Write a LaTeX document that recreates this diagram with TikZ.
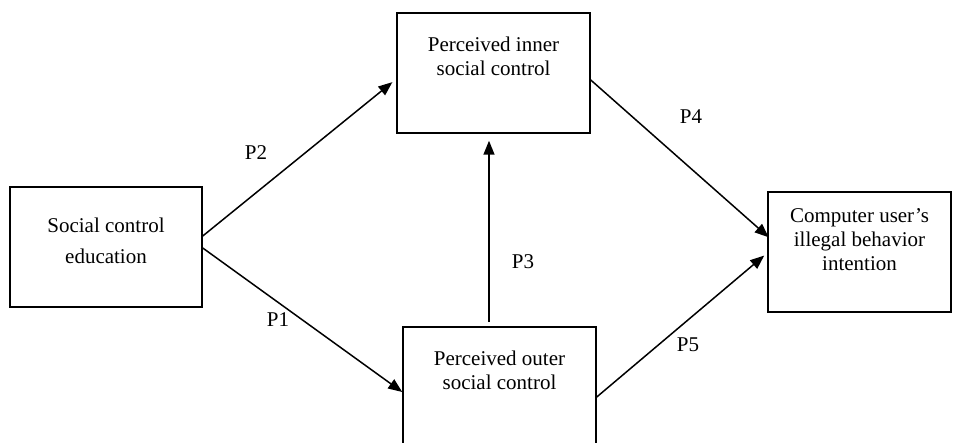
\documentclass[tikz,border=0pt]{standalone}
\usepackage{fontspec}
\setmainfont{Liberation Serif}
\usepackage{tikz}
\usetikzlibrary{arrows.meta,positioning}

\begin{document}
\begin{tikzpicture}[
  x=1pt,y=1pt,
  box/.style={draw,line width=1.5pt,minimum height=120pt,inner sep=0pt},
  txt/.style={font=\fontsize{21}{24}\selectfont,align=center,inner sep=0pt},
  plabel/.style={font=\fontsize{21}{24}\selectfont,inner sep=0pt},
  arr/.style={-{Triangle[length=14pt,width=11pt]},line width=1.5pt}
]
  \useasboundingbox (0,0) rectangle (954,-443);
  \clip (0,0) rectangle (954,-443);

  % boxes
  \node[box,minimum width=192pt] (social) at (106,-247) {};
  \node[box,minimum width=193pt] (inner) at (493.5,-73) {};
  \node[box,minimum width=193pt] (outer) at (499.5,-387) {};
  \node[box,minimum width=183pt] (user) at (859.5,-252) {};

  \node[txt] (socialtxt) at ([yshift=-55pt]social.north) {Social control\\[7pt]education};
  \node[txt] (innertxt) at ([yshift=-44pt]inner.north) {Perceived inner\\social control};
  \node[txt] (outertxt) at ([yshift=-44pt]outer.north) {Perceived outer\\social control};
  \node[txt] (usertxt) at ([yshift=-48pt]user.north) {Computer user's\\illegal behavior\\intention};

  % paths
  \draw[arr,shorten >=5pt] ([yshift=11pt]social.east) -- ([yshift=-6pt]inner.west);
  \draw[arr] ([yshift=-1pt]social.east) -- ([yshift=-5pt]outer.west);
  \draw[arr] ([xshift=-10.5pt,yshift=4pt]outer.north) -- ([xshift=-4.5pt,yshift=-7pt]inner.south);
  \draw[arr,shorten >=-2pt] ([yshift=-7pt]inner.east) -- ([yshift=16pt]user.west);
  \draw[arr,shorten >=4pt] ([yshift=-10pt]outer.east) -- ([yshift=-1pt]user.west);

  \node[plabel] (p1) at (278,-320) {P1};
  \node[plabel] (p2) at (256,-153) {P2};
  \node[plabel] (p3) at (523,-262) {P3};
  \node[plabel] (p4) at (691,-117) {P4};
  \node[plabel] (p5) at (688,-345) {P5};
\end{tikzpicture}
\end{document}
